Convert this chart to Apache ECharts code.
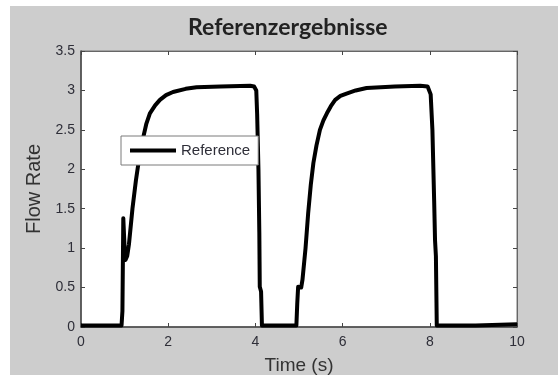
<!DOCTYPE html>
<html>
<head>
<meta charset="utf-8">
<script src="https://cdn.jsdelivr.net/npm/echarts@6/dist/echarts.min.js"></script>
<style>
html,body{margin:0;padding:0;background:#fff;}
#chart{width:558px;height:375px;}
</style>
</head>
<body>
<div id="chart"></div>
<script>
var titleText = 'Referenzergebnisse';
var xName = 'Time (s)';
var yName = 'Flow Rate';
var seriesName = 'Reference';
var xTicks = [0, 2, 4, 6, 8, 10];
var yTicks = [0, 0.5, 1, 1.5, 2, 2.5, 3, 3.5];

var timeValues = [
  0, 0.93, 0.95, 0.97, 0.99, 1.0, 1.02, 1.04, 1.06, 1.10, 1.18, 1.26, 1.35, 1.43, 1.50, 1.58, 1.70, 1.81, 1.95, 2.11, 2.40, 2.65, 3.20, 3.88, 3.97, 4.02, 4.04, 4.07, 4.09, 4.10, 4.13, 4.15,
  4.94, 4.96, 4.98, 5.02, 5.05, 5.08, 5.15, 5.21, 5.27, 5.33, 5.40, 5.48, 5.56, 5.64, 5.73, 5.83, 5.95, 6.09, 6.30, 6.55, 7.20, 7.78, 7.95, 8.02, 8.06, 8.10, 8.12, 8.14, 8.16,
  9.05, 9.07, 10
];
var flowValues = [
  0.02, 0.02, 0.2, 1.38, 1.38, 1.0, 0.85, 0.85, 0.9, 1.05, 1.5, 1.86, 2.2, 2.41, 2.58, 2.71, 2.81, 2.88, 2.94, 2.98, 3.02, 3.04, 3.05, 3.06, 3.05, 3.0, 2.7, 2.0, 1.2, 0.51, 0.45, 0.02,
  0.02, 0.3, 0.51, 0.52, 0.5, 0.6, 1.0, 1.44, 1.8, 2.08, 2.3, 2.5, 2.62, 2.71, 2.80, 2.88, 2.93, 2.96, 3.0, 3.03, 3.05, 3.06, 3.05, 2.95, 2.5, 1.6, 1.1, 0.9, 0.02,
  0.02, 0.035, 0.035
];

var seriesData = timeValues.map(function (t, i) { return [t, flowValues[i]]; });

var chart = echarts.init(document.getElementById('chart'), null, {renderer: 'canvas'});
var tickColor = '#2e2e38';
var axisLineColor = '#454545';
var labelFont = 'Liberation Sans, Arial, sans-serif';

function baseAxis(extra) {
  return Object.assign({
    type: 'value',
    axisLine: {show: true, onZero: false, lineStyle: {color: axisLineColor, width: 1.5}},
    axisTick: {show: true, inside: true, length: 4, lineStyle: {color: axisLineColor, width: 1}},
    splitLine: {show: false},
    axisLabel: {color: tickColor, fontSize: 14, fontFamily: labelFont}
  }, extra);
}

var option = {
  backgroundColor: '#ffffff',
  animation: false,
  graphic: [{
    type: 'rect',
    left: 10, top: 6,
    shape: {width: 548, height: 369},
    style: {fill: '#cdcdcd'},
    z: -10
  }],
  title: {
    text: titleText,
    left: 188, top: 15,
    padding: 0,
    textStyle: {fontFamily: 'Lato, sans-serif', fontWeight: 'bold', fontSize: 23, color: '#222', lineHeight: 26}
  },
  legend: {
    data: [{name: seriesName, icon: 'rect'}],
    left: 121, top: 136,
    padding: [7, 8, 7, 9],
    itemWidth: 46, itemHeight: 4, itemGap: 5,
    backgroundColor: '#ffffff',
    borderColor: '#7a7a7a', borderWidth: 1, borderRadius: 0,
    textStyle: {fontSize: 15, color: '#2e2e38', fontFamily: labelFont}
  },
  grid: {
    left: 81, right: 41, top: 51, bottom: 48,
    containLabel: false,
    outerBoundsMode: 'none',
    show: true, backgroundColor: '#ffffff', borderColor: '#777', borderWidth: 1
  },
  xAxis: [
    baseAxis({
      position: 'bottom', min: xTicks[0], max: xTicks[xTicks.length - 1], interval: xTicks[1] - xTicks[0],
      name: xName, nameLocation: 'middle', nameGap: 29,
      nameTextStyle: {fontSize: 19, color: '#333', fontFamily: labelFont},
      axisLabel: {color: tickColor, fontSize: 14, fontFamily: labelFont, margin: 8}
    }),
    baseAxis({
      position: 'top', min: xTicks[0], max: xTicks[xTicks.length - 1], interval: xTicks[1] - xTicks[0],
      axisLine: {show: true, onZero: false, lineStyle: {color: '#666', width: 1}},
      axisLabel: {show: false}
    })
  ],
  yAxis: [
    baseAxis({
      position: 'left', min: yTicks[0], max: yTicks[yTicks.length - 1], interval: yTicks[1] - yTicks[0],
      name: yName, nameLocation: 'middle', nameGap: 37, nameRotate: 90,
      nameTextStyle: {fontSize: 20, color: '#333', fontFamily: labelFont},
      axisLabel: {color: tickColor, fontSize: 14, fontFamily: labelFont, margin: 6}
    }),
    baseAxis({
      position: 'right', min: yTicks[0], max: yTicks[yTicks.length - 1], interval: yTicks[1] - yTicks[0],
      axisLine: {show: true, onZero: false, lineStyle: {color: '#666', width: 1}},
      axisLabel: {show: false}
    })
  ],
  series: [{
    name: seriesName,
    type: 'line',
    xAxisIndex: 0, yAxisIndex: 0,
    data: seriesData,
    symbol: 'none',
    clip: false,
    color: '#000',
    lineStyle: {color: '#000', width: 4, join: 'round'}
  }]
};
chart.setOption(option);
</script>
</body>
</html>
